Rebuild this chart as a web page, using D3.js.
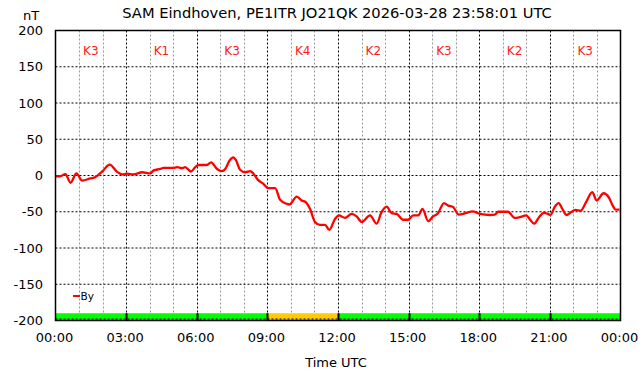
<!DOCTYPE html>
<html>
<head>
<meta charset="utf-8">
<script src="https://cdn.jsdelivr.net/npm/d3@7"></script>
<style>
  html, body { margin: 0; padding: 0; background: #fff; }
  svg { display: block; font-family: "DejaVu Sans", sans-serif; }
</style>
</head>
<body>
<svg id="chart" width="642" height="376"></svg>
<script>
// ---- data ----
const titleText = "SAM Eindhoven, PE1ITR JO21QK 2026-03-28 23:58:01 UTC";
const seriesName = "By";
const hours = [0.00, 0.20, 0.42, 0.64, 0.89, 1.13, 1.48, 1.70, 2.00, 2.30, 2.62, 2.83, 3.04, 3.31, 3.68, 4.03, 4.17, 4.45, 4.59, 5.00, 5.16, 5.37, 5.51, 5.75, 5.94, 6.08, 6.43, 6.61, 6.86, 7.07, 7.21, 7.39, 7.56, 7.66, 7.84, 8.06, 8.27, 8.41, 8.60, 8.83, 9.04, 9.33, 9.54, 9.82, 9.93, 10.25, 10.46, 10.64, 10.81, 11.02, 11.24, 11.45, 11.63, 11.87, 12.04, 12.30, 12.58, 12.79, 13.01, 13.36, 13.64, 13.85, 14.07, 14.28, 14.49, 14.77, 14.98, 15.19, 15.41, 15.59, 15.83, 16.04, 16.25, 16.50, 16.68, 16.89, 17.13, 17.46, 17.71, 18.03, 18.45, 18.66, 18.80, 19.22, 19.51, 19.72, 20.00, 20.14, 20.33, 20.54, 20.74, 20.92, 21.03, 21.20, 21.37, 21.53, 21.70, 21.91, 22.08, 22.31, 22.55, 22.80, 22.99, 23.28, 23.50, 23.67, 23.79, 23.96];
const byValues = [-1, -1, 2, -10, 3, -7, -4, -2, 6, 15, 5, 1.5, 2.5, 1.5, 4.5, 3, 7, 9, 10.5, 10.5, 11.5, 10, 11.5, 5.5, 11.5, 14.5, 14.5, 18, 9, 6, 9, 20.5, 25, 21.5, 8, 4.5, 6, 2.5, -6, -11.5, -17.5, -17.5, -33.5, -39, -40, -29, -34.5, -37, -46, -64, -68, -68, -75, -60, -55, -58.5, -53, -56.5, -64, -55, -66.5, -50.5, -43, -52, -53, -61, -61, -55, -55, -46, -63, -56.5, -52, -38, -41.5, -43.5, -54, -51.5, -49.5, -53, -54.5, -54, -50, -50, -58.5, -57.5, -55, -60, -66.5, -57.5, -51.5, -53, -54.5, -43.5, -38, -46, -54.5, -50.5, -47.5, -48.5, -36, -23, -34.5, -24.5, -30, -41.5, -47, -47];
const kIndex = [3, 1, 3, 4, 2, 3, 2, 3];
const yTicks = [-200, -150, -100, -50, 0, 50, 100, 150, 200];
const xTicks = [0, 3, 6, 9, 12, 15, 18, 21, 24];
const xTickLabels = ["00:00", "03:00", "06:00", "09:00", "12:00", "15:00", "18:00", "21:00", "00:00"];

// ---- chart ----
const svg = d3.select("#chart");
const x = d3.scaleLinear().domain([0, 24]).range([55.5, 620.5]);
const y = d3.scaleLinear().domain([-200, 200]).range([320.5, 30.5]);

const g = svg.append("g");

// minor hour grid (gray)
const minorHours = d3.range(1, 24).filter(h => h % 3 !== 0);
g.selectAll("line.minor").data(minorHours).join("line")
  .attr("x1", d => Math.round(x(d)) + 0.5).attr("x2", d => Math.round(x(d)) + 0.5)
  .attr("y1", y(200)).attr("y2", y(-200))
  .attr("stroke", "#999").attr("stroke-width", 1).attr("stroke-dasharray", "2,2");

// major vertical grid
g.selectAll("line.majx").data(xTicks.slice(1, -1)).join("line")
  .attr("x1", d => Math.round(x(d)) + 0.5).attr("x2", d => Math.round(x(d)) + 0.5)
  .attr("y1", y(200)).attr("y2", y(-200))
  .attr("stroke", "#000").attr("stroke-width", 1).attr("stroke-dasharray", "2,2");

// major horizontal grid
g.selectAll("line.majy").data(yTicks.slice(1, -1)).join("line")
  .attr("x1", x(0)).attr("x2", x(24))
  .attr("y1", d => y(d)).attr("y2", d => y(d))
  .attr("stroke", "#000").attr("stroke-width", 1).attr("stroke-dasharray", "2,2");

// K-index bar
const kColor = k => k >= 4 ? "#ffcc00" : "#00ff00";
g.selectAll("rect.k").data(kIndex).join("rect")
  .attr("x", (d, i) => x(i * 3)).attr("width", (d, i) => x(i * 3 + 3) - x(i * 3))
  .attr("y", y(-190)).attr("height", y(-200) - y(-190))
  .attr("fill", d => kColor(d));
g.append("line")
  .attr("x1", x(0)).attr("x2", x(24)).attr("y1", y(-200) - 1.5).attr("y2", y(-200) - 1.5)
  .attr("stroke", "#000").attr("stroke-width", 1).attr("stroke-dasharray", "2,2");
g.selectAll("line.ksep").data(xTicks.slice(1, -1)).join("line")
  .attr("x1", d => Math.round(x(d)) + 0.5).attr("x2", d => Math.round(x(d)) + 0.5)
  .attr("y1", y(-190)).attr("y2", y(-200))
  .attr("stroke", "#000").attr("stroke-width", 2);

// K labels
g.selectAll("text.k").data(kIndex).join("text")
  .attr("x", (d, i) => x(i * 3 + 1.5)).attr("y", 54.5)
  .attr("text-anchor", "middle").attr("font-size", 12).attr("fill", "#ff2020")
  .text(d => "K" + d);

// series line
const pts = hours.map((h, i) => [h, byValues[i]]);
const line = d3.line().x(d => x(d[0])).y(d => y(d[1])).curve(d3.curveMonotoneX);
g.append("path").datum(pts).attr("d", line)
  .attr("fill", "none").attr("stroke", "#ff0000").attr("stroke-width", 2.3)
  .attr("stroke-linejoin", "round");

// frame
g.append("rect").attr("x", x(0)).attr("y", y(200))
  .attr("width", x(24) - x(0)).attr("height", y(-200) - y(200))
  .attr("fill", "none").attr("stroke", "#000").attr("stroke-width", 1.5);

// y axis labels
g.selectAll("text.yt").data(yTicks).join("text")
  .attr("x", 43).attr("y", d => y(d) + 4.5)
  .attr("text-anchor", "end").attr("font-size", 13).attr("fill", "#000")
  .text(d => d);
svg.append("text").attr("x", 31).attr("y", 19.5).attr("text-anchor", "middle")
  .attr("font-size", 13).text("nT");

// x axis labels
g.selectAll("text.xt").data(xTicks).join("text")
  .attr("x", d => x(d) - 1).attr("y", 342)
  .attr("text-anchor", "middle").attr("font-size", 13).attr("fill", "#000")
  .text((d, i) => xTickLabels[i]);
svg.append("text").attr("x", 336).attr("y", 367).attr("text-anchor", "middle")
  .attr("font-size", 13).text("Time UTC");

// title
svg.append("text").attr("x", 337).attr("y", 17.5).attr("text-anchor", "middle")
  .attr("font-size", 14.7).text(titleText);

// legend
g.append("line").attr("x1", 73).attr("x2", 80).attr("y1", 296).attr("y2", 296)
  .attr("stroke", "#ff0000").attr("stroke-width", 2);
g.append("text").attr("x", 80.5).attr("y", 300).attr("font-size", 10.5).text(seriesName);
</script>
</body>
</html>
